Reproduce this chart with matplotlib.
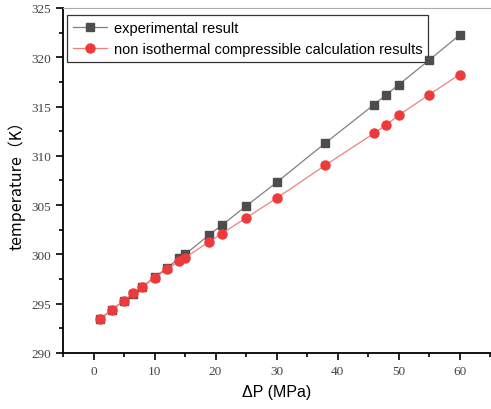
import matplotlib
matplotlib.use("Agg")
from matplotlib import pyplot as plt
from matplotlib.ticker import MultipleLocator

# pressure difference (MPa)
dp = [1, 3, 5, 6.5, 8, 10, 12, 14, 15, 19, 21, 25, 30, 38, 46, 48, 50, 55, 60]
# experimental temperature (K)
t_exp = [293.4, 294.4, 295.3, 296.0, 296.7, 297.7, 298.6, 299.6, 300.0, 302.0,
         302.95, 304.9, 307.3, 311.3, 315.2, 316.2, 317.2, 319.7, 322.25]
# non isothermal compressible calculation (K)
t_calc = [293.45, 294.4, 295.3, 296.05, 296.7, 297.6, 298.5, 299.3, 299.67, 301.3,
          302.1, 303.7, 305.7, 309.05, 312.3, 313.15, 314.1, 316.2, 318.25]

fig = plt.figure(figsize=(4.91, 4.10), dpi=100)
ax = fig.add_axes([63/491, 56/410, 427/491, 345/410])

ax.plot(dp, t_exp, color="#808080", lw=0.9, marker="s", ms=5.5,
        mfc="#4d4d4d", mec="#4d4d4d", label="experimental result", zorder=5)
ax.plot(dp, t_calc, color="#f08080", lw=0.9, marker="o", ms=6.5,
        mfc="#ee3a3a", mec="#ee3a3a", label="non isothermal compressible calculation results", zorder=5)

ax.set_xlim(-5, 65)
ax.set_ylim(290, 325)
ax.xaxis.set_major_locator(MultipleLocator(10))
ax.xaxis.set_minor_locator(MultipleLocator(5))
ax.yaxis.set_major_locator(MultipleLocator(5))
ax.yaxis.set_minor_locator(MultipleLocator(2.5))
ax.tick_params(which="both", direction="out", width=1.2, colors="black")
ax.tick_params(which="major", length=5)
ax.tick_params(which="minor", length=3)
for lab in ax.get_xticklabels() + ax.get_yticklabels():
    lab.set_family("Liberation Serif")
    lab.set_fontsize(9.5)
    lab.set_color("#444444")

ax.spines["left"].set_linewidth(1.3)
ax.spines["bottom"].set_linewidth(1.3)
ax.spines["top"].set_color("#aaaaaa")
ax.spines["right"].set_visible(False)

ax.set_xlabel("ΔP (MPa)", fontsize=11.5, family="Liberation Sans", labelpad=5)
ax.set_ylabel("temperature（K）", fontsize=11.5, family=["Noto Sans CJK SC", "DejaVu Sans"], labelpad=4)

leg = ax.legend(loc="upper left", bbox_to_anchor=(0.0, 0.992), fancybox=False,
                edgecolor="#333333", framealpha=1, handlelength=2.3,
                borderaxespad=0.3, borderpad=0.4, labelspacing=0.5,
                handletextpad=0.5, prop={"family": "Liberation Sans", "size": 10.5})
leg.get_frame().set_linewidth(0.9)
leg.set_zorder(2)

fig.savefig("out.png", dpi=100)
